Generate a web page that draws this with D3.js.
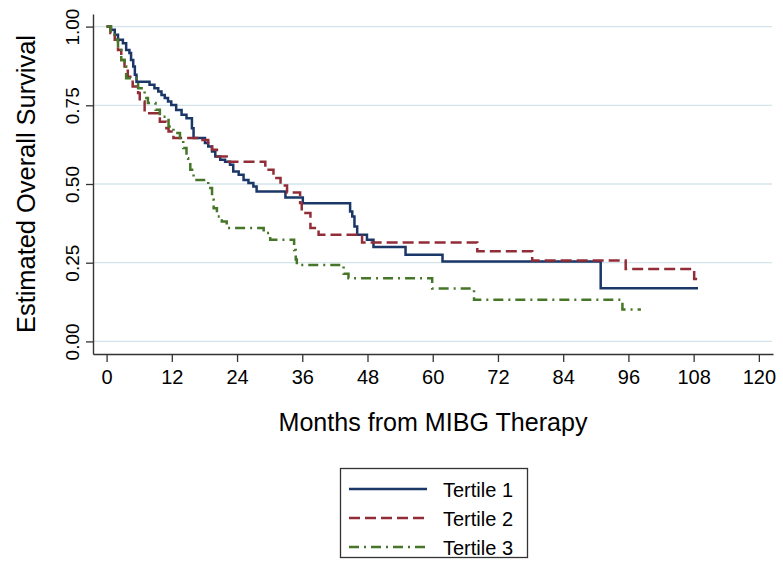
<!DOCTYPE html>
<html>
<head>
<meta charset="utf-8">
<script src="https://cdn.jsdelivr.net/npm/d3@7"></script>
<style>
  body { margin: 0; background: #fff; }
  svg { display: block; font-family: "Liberation Sans", Arial, sans-serif; }
</style>
</head>
<body>
<svg id="km" width="783" height="570"></svg>
<script>
// Kaplan-Meier steps (months, survival)
const monthTicks = [0, 12, 24, 36, 48, 60, 72, 84, 96, 108, 120];
const survTicks = [0, 0.25, 0.5, 0.75, 1];

const t1Months = [0, 0.8, 1.5, 2.1, 3.0, 3.6, 4.2, 4.5, 4.9, 5.2, 5.5, 7.9, 8.8, 9.5, 10.1, 10.7, 11.3, 11.9, 12.8, 13.8, 14.7, 15.7, 16.0, 18.1, 18.7, 19.4, 20.0, 20.9, 21.8, 22.7, 23.3, 24.3, 25.2, 26.1, 27.0, 27.6, 32.9, 36.1, 44.8, 45.2, 45.6, 46.1, 47.9, 49.1, 55.0, 61.8, 90.9, 108.8];
const t1Surv = [1.0, 0.99, 0.974, 0.958, 0.947, 0.926, 0.916, 0.894, 0.873, 0.847, 0.825, 0.815, 0.804, 0.794, 0.783, 0.773, 0.762, 0.751, 0.735, 0.720, 0.709, 0.677, 0.646, 0.630, 0.619, 0.603, 0.587, 0.577, 0.571, 0.561, 0.540, 0.529, 0.513, 0.503, 0.492, 0.476, 0.457, 0.439, 0.413, 0.397, 0.365, 0.339, 0.323, 0.300, 0.275, 0.254, 0.169, 0.169];

const t2Months = [0, 0.7, 1.5, 2.1, 2.7, 3.3, 3.9, 4.8, 5.8, 6.1, 7.0, 9.8, 11.0, 11.4, 12.3, 17.2, 18.7, 19.4, 20.3, 22.1, 29.2, 30.7, 32.0, 33.2, 35.6, 35.9, 37.5, 39.0, 47.0, 68.2, 78.3, 95.5, 108.1, 109.0];
const t2Surv = [1.0, 0.98, 0.958, 0.926, 0.894, 0.873, 0.841, 0.81, 0.789, 0.762, 0.725, 0.698, 0.677, 0.667, 0.646, 0.64, 0.63, 0.609, 0.587, 0.571, 0.545, 0.519, 0.495, 0.473, 0.44, 0.408, 0.36, 0.339, 0.314, 0.286, 0.257, 0.230, 0.198, 0.198];

const t3Months = [0, 0.8, 1.5, 2.1, 2.7, 3.3, 3.6, 5.8, 7.0, 7.6, 9.0, 9.8, 11.4, 12.3, 13.5, 14.1, 14.7, 15.0, 15.4, 16.0, 18.7, 19.4, 19.7, 20.3, 21.2, 22.1, 28.9, 30.1, 34.5, 34.8, 35.0, 43.6, 44.5, 59.9, 67.6, 94.9, 98.3];
const t3Surv = [1.0, 0.98, 0.958, 0.926, 0.894, 0.873, 0.836, 0.804, 0.773, 0.757, 0.736, 0.714, 0.683, 0.662, 0.640, 0.614, 0.582, 0.571, 0.545, 0.513, 0.487, 0.45, 0.423, 0.397, 0.381, 0.36, 0.344, 0.323, 0.29, 0.26, 0.243, 0.215, 0.201, 0.168, 0.132, 0.101, 0.101];

const seriesNames = ["Tertile 1", "Tertile 2", "Tertile 3"];

const series = [
  { name: seriesNames[0], months: t1Months, surv: t1Surv, color: "#1b3767", dash: null },
  { name: seriesNames[1], months: t2Months, surv: t2Surv, color: "#922d37", dash: "11,5" },
  { name: seriesNames[2], months: t3Months, surv: t3Surv, color: "#467627", dash: "10,5,2,5" }
];

const svg = d3.select("#km");

const x = d3.scaleLinear().domain([-2.5, 122.6]).range([93, 773]);
const y = d3.scaleLinear().domain([-0.04, 1.04]).range([354, 14]);

// horizontal grid at the y ticks
svg.append("g")
  .selectAll("line")
  .data(survTicks)
  .join("line")
  .attr("x1", x.range()[0])
  .attr("x2", x.range()[1] - 1)
  .attr("y1", d => y(d))
  .attr("y2", d => y(d))
  .attr("stroke", "#d3e4eb")
  .attr("stroke-width", 1.3);

// axes
const xAxis = svg.append("g")
  .attr("transform", `translate(0,${y.range()[0]})`)
  .call(d3.axisBottom(x).tickValues(monthTicks).tickSize(8).tickSizeOuter(0).tickPadding(8));

const yAxis = svg.append("g")
  .attr("transform", `translate(${x.range()[0]},0)`)
  .call(d3.axisLeft(y).tickValues(survTicks).tickFormat(d3.format(".2f")).tickSize(7).tickSizeOuter(0));

[xAxis, yAxis].forEach(a => {
  a.select(".domain").attr("stroke", "#333").attr("stroke-width", 1.4);
  a.selectAll(".tick line").attr("stroke", "#333").attr("stroke-width", 1.3);
  a.selectAll("text")
    .attr("fill", "#000")
    .style("font-size", "20px")
    .style("font-family", "'Liberation Sans', Arial, sans-serif");
});

yAxis.selectAll(".tick text")
  .attr("x", 0)
  .attr("dy", 0)
  .attr("text-anchor", "middle")
  .attr("transform", "translate(-14,0) rotate(-90)")
  .style("font-size", "19px");

// axis titles
svg.append("text")
  .attr("x", (x.range()[0] + x.range()[1]) / 2)
  .attr("y", 431)
  .attr("text-anchor", "middle")
  .attr("textLength", 309)
  .attr("lengthAdjust", "spacingAndGlyphs")
  .style("font-size", "26px")
  .attr("fill", "#000")
  .text("Months from MIBG Therapy");

svg.append("text")
  .attr("transform", `translate(35,${(y.range()[0] + y.range()[1]) / 2}) rotate(-90)`)
  .attr("text-anchor", "middle")
  .attr("textLength", 298)
  .attr("lengthAdjust", "spacingAndGlyphs")
  .style("font-size", "25px")
  .attr("fill", "#000")
  .text("Estimated Overall Survival");

// survival curves
const line = d3.line()
  .x(d => x(d[0]))
  .y(d => y(d[1]))
  .curve(d3.curveStepAfter);

svg.append("g")
  .selectAll("path")
  .data(series)
  .join("path")
  .attr("d", s => line(s.months.map((m, i) => [m, s.surv[i]])))
  .attr("fill", "none")
  .attr("stroke", s => s.color)
  .attr("stroke-width", 2.5)
  .attr("stroke-dasharray", s => s.dash);

// legend
const legend = svg.append("g");

legend.append("rect")
  .attr("x", 340.5)
  .attr("y", 468.5)
  .attr("width", 187)
  .attr("height", 89)
  .attr("fill", "#fff")
  .attr("stroke", "#333")
  .attr("stroke-width", 1.3);

const rows = legend.selectAll("g.row")
  .data(series)
  .join("g")
  .attr("class", "row")
  .attr("transform", (d, i) => `translate(0,${489 + i * 29})`);

rows.append("line")
  .attr("x1", 349)
  .attr("x2", 427)
  .attr("stroke", d => d.color)
  .attr("stroke-width", 2.5)
  .attr("stroke-dasharray", d => d.dash);

rows.append("text")
  .attr("x", 443)
  .attr("y", 7.5)
  .style("font-size", "20px")
  .attr("fill", "#000")
  .text(d => d.name);
</script>
</body>
</html>
